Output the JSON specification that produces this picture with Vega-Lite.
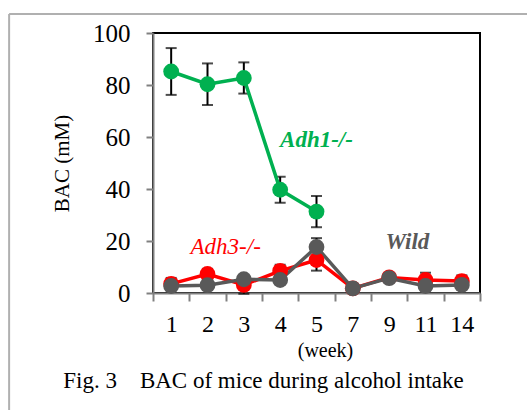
{
  "$schema": "https://vega.github.io/schema/vega-lite/v6.json",
  "autosize": {"type": "none"},
  "width": 327,
  "height": 260,
  "padding": {"left": 153, "top": 33, "right": 47, "bottom": 117},
  "background": "white",
  "config": {
    "view": {"stroke": "black", "strokeWidth": 2},
    "font": "Liberation Serif",
    "text": {"font": "Liberation Serif"},
    "axis": {"labelFont": "Liberation Serif", "titleFont": "Liberation Serif"}
  },
  "title": {
    "text": "Fig. 3\u3000BAC of mice during alcohol intake",
    "orient": "bottom",
    "anchor": "middle",
    "frame": "group",
    "font": "Liberation Serif",
    "fontSize": 23,
    "fontWeight": "normal",
    "color": "black",
    "offset": -42,
    "dx": -53
  },
  "datasets": {
    "bac": [
      {"series": "Adh1", "week": "1", "mean": 85.2, "sd": 9.0},
      {"series": "Adh1", "week": "2", "mean": 80.3, "sd": 8.0},
      {"series": "Adh1", "week": "3", "mean": 82.7, "sd": 6.0},
      {"series": "Adh1", "week": "4", "mean": 39.7, "sd": 5.0},
      {"series": "Adh1", "week": "5", "mean": 31.3, "sd": 6.0},
      {"series": "Adh3", "week": "1", "mean": 3.5, "sd": 2.3},
      {"series": "Adh3", "week": "2", "mean": 7.3, "sd": 2.0},
      {"series": "Adh3", "week": "3", "mean": 3.1, "sd": 3.4},
      {"series": "Adh3", "week": "4", "mean": 8.5, "sd": 2.4},
      {"series": "Adh3", "week": "5", "mean": 12.7, "sd": 4.1},
      {"series": "Adh3", "week": "7", "mean": 1.8, "sd": 1.0},
      {"series": "Adh3", "week": "9", "mean": 6.0, "sd": 1.0},
      {"series": "Adh3", "week": "11", "mean": 5.0, "sd": 2.8},
      {"series": "Adh3", "week": "14", "mean": 4.6, "sd": 2.2},
      {"series": "Wild", "week": "1", "mean": 2.7, "sd": 1.5},
      {"series": "Wild", "week": "2", "mean": 3.0, "sd": 1.0},
      {"series": "Wild", "week": "3", "mean": 5.3, "sd": 1.5},
      {"series": "Wild", "week": "4", "mean": 5.0, "sd": 1.5},
      {"series": "Wild", "week": "5", "mean": 17.7, "sd": 3.4},
      {"series": "Wild", "week": "7", "mean": 1.8, "sd": 0.5},
      {"series": "Wild", "week": "9", "mean": 5.7, "sd": 1.0},
      {"series": "Wild", "week": "11", "mean": 2.7, "sd": 1.0},
      {"series": "Wild", "week": "14", "mean": 3.1, "sd": 1.5}
    ],
    "frame": [
      {"x": -0.44, "x2": 1.144, "y": 107.3, "y2": 107.3},
      {"x": -0.44, "x2": -0.44, "y": 107.3, "y2": -45.4}
    ],
    "labels": [
      {"series": "Adh1", "label": "Adh1-/-", "week": "5", "pos": 56.2},
      {"series": "Adh3", "label": "Adh3-/-", "week": "2", "pos": 15.0},
      {"series": "Wild", "label": "Wild", "week": "9", "pos": 16.9}
    ]
  },
  "resolve": {"scale": {"x": "independent"}, "axis": {"x": "independent"}},
  "layer": [
    {
      "data": {"name": "frame"},
      "mark": {"type": "rule", "color": "#b0b0b0", "strokeWidth": 2, "clip": false},
      "encoding": {
        "x": {"field": "x", "type": "quantitative", "scale": {"domain": [0, 1], "nice": false, "zero": false}, "axis": null},
        "x2": {"field": "x2"},
        "y": {"field": "y", "type": "quantitative", "scale": {"domain": [0, 100], "nice": false}},
        "y2": {"field": "y2"}
      }
    },
    {
      "data": {"name": "bac"},
      "encoding": {
        "x": {
          "field": "week", "type": "ordinal",
          "scale": {"type": "band", "domain": ["1","2","3","4","5","7","9","11","14"], "paddingInner": 0, "paddingOuter": 0},
          "axis": {
            "title": "(week)", "titleFontSize": 20, "titleFontWeight": "normal",
            "titleColor": "black", "titlePadding": 4, "titleX": 172,
            "labelFontSize": 24, "labelColor": "black", "labelPadding": 11, "labelAngle": 0,
            "domainColor": "#808080", "domainWidth": 2, "tickColor": "#808080", "tickWidth": 2, "tickSize": 8,
            "tickBand": "extent", "grid": false
          }
        },
        "y": {
          "field": "mean", "type": "quantitative",
          "scale": {"domain": [0, 100], "nice": false},
          "axis": {
            "title": "BAC (mM)", "titleFontSize": 21, "titleFontWeight": "normal",
            "titleColor": "black", "titlePadding": 20,
            "values": [0, 20, 40, 60, 80, 100],
            "labelFontSize": 25, "labelColor": "black", "labelPadding": 16,
            "domainColor": "#808080", "domainWidth": 2, "tickColor": "#808080", "tickWidth": 2, "tickSize": 7,
            "grid": false
          }
        }
      },
      "layer": [
        {
          "transform": [{"calculate": "datum.mean - datum.sd", "as": "lo"}, {"calculate": "datum.mean + datum.sd", "as": "hi"}],
          "mark": {"type": "rule", "color": "black", "strokeWidth": 2},
          "encoding": {"y": {"field": "lo", "type": "quantitative"}, "y2": {"field": "hi"}}
        },
        {
          "transform": [{"calculate": "datum.mean - datum.sd", "as": "lo"}],
          "mark": {"type": "tick", "color": "black", "thickness": 2, "size": 11},
          "encoding": {"y": {"field": "lo", "type": "quantitative"}}
        },
        {
          "transform": [{"calculate": "datum.mean + datum.sd", "as": "hi"}],
          "mark": {"type": "tick", "color": "black", "thickness": 2, "size": 11},
          "encoding": {"y": {"field": "hi", "type": "quantitative"}}
        },
        {
          "mark": {"type": "line", "strokeWidth": 3.5},
          "encoding": {
            "color": {"field": "series", "type": "nominal", "scale": {"domain": ["Adh1", "Adh3", "Wild"], "range": ["#00b050", "#ff0000", "#595959"]}, "legend": null}
          }
        },
        {
          "mark": {"type": "point", "filled": true, "opacity": 1, "size": 250},
          "encoding": {
            "color": {"field": "series", "type": "nominal", "legend": null}
          }
        },
        {
          "data": {"name": "labels"},
          "transform": [{"filter": "datum.series === 'Adh1'"}],
          "mark": {"type": "text", "fontSize": 23, "fontStyle": "italic", "fontWeight": "bold", "align": "center", "baseline": "alphabetic", "color": "#00b050"},
          "encoding": {
            "x": {"field": "week", "type": "ordinal"},
            "y": {"field": "pos", "type": "quantitative"},
            "text": {"field": "label"}
          }
        },
        {
          "data": {"name": "labels"},
          "transform": [{"filter": "datum.series === 'Adh3'"}],
          "mark": {"type": "text", "fontSize": 23, "fontStyle": "italic", "fontWeight": "normal", "align": "center", "baseline": "alphabetic", "color": "#ff0000"},
          "encoding": {
            "x": {"field": "week", "type": "ordinal", "bandPosition": 1},
            "y": {"field": "pos", "type": "quantitative"},
            "text": {"field": "label"}
          }
        },
        {
          "data": {"name": "labels"},
          "transform": [{"filter": "datum.series === 'Wild'"}],
          "mark": {"type": "text", "fontSize": 23, "fontStyle": "italic", "fontWeight": "bold", "align": "center", "baseline": "alphabetic", "color": "#595959"},
          "encoding": {
            "x": {"field": "week", "type": "ordinal", "bandPosition": 1},
            "y": {"field": "pos", "type": "quantitative"},
            "text": {"field": "label"}
          }
        }
      ]
    }
  ]
}
